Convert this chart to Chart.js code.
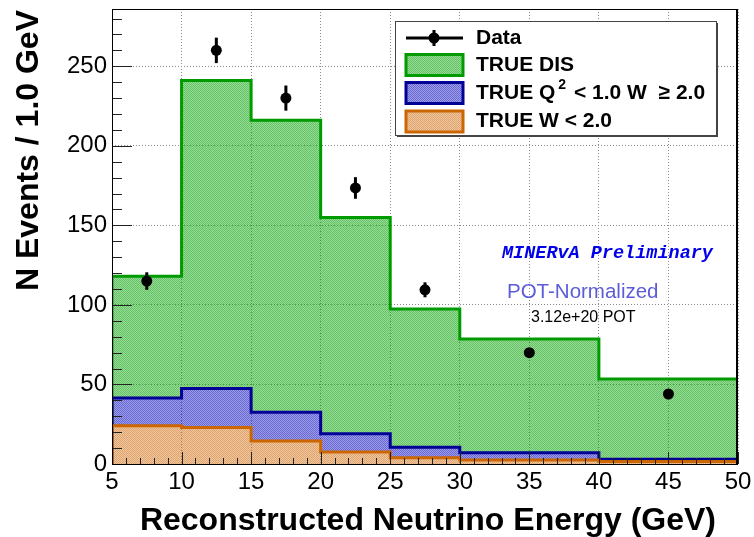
<!DOCTYPE html>
<html>
<head>
<meta charset="utf-8">
<script src="https://cdn.jsdelivr.net/npm/chart.js@4.4.0/dist/chart.umd.min.js"></script>
<style>
  html, body { margin: 0; padding: 0; background: #ffffff; }
  #wrap { width: 754px; height: 537px; }
</style>
</head>
<body>
<div id="wrap"><canvas id="c" width="754" height="537"></canvas></div>
<script>
// Reconstructed neutrino energy bins (GeV) and event rates per 1 GeV
const binEdges = [5, 10, 15, 20, 25, 30, 40, 50];
const trueDIS = [118, 241, 216, 155, 97.5, 78.5, 53.5];
const trueLowQ2HighW = [41.5, 47.5, 32.5, 19, 10.5, 7, 3];
const trueLowW = [24, 23, 14.5, 7.5, 4, 2.5, 1.5];

// Measured points with statistical errors
const dataEnergy = [7.5, 12.5, 17.5, 22.5, 27.5, 35, 45];
const dataEvents = [115, 260, 230, 173.5, 109.5, 70, 44];
const dataError = [5.5, 8, 7.9, 6.8, 4.7, 2.6, 2.1];

const xTickValues = [5, 10, 15, 20, 25, 30, 35, 40, 45, 50];
const yTickValues = [0, 50, 100, 150, 200, 250];

const legendLabels = ['Data', 'TRUE DIS', 'TRUE Q', 'TRUE W < 2.0'];

const SANS = '"Liberation Sans", Arial, Helvetica, sans-serif';

// Fine checkered fill, like ROOT's hatched fill styles
function checker(r, g, b, a1, a2) {
  const c = document.createElement('canvas');
  c.width = 2; c.height = 2;
  const g2 = c.getContext('2d');
  g2.fillStyle = `rgba(${r},${g},${b},${a1})`;
  g2.fillRect(0, 0, 1, 1); g2.fillRect(1, 1, 1, 1);
  g2.fillStyle = `rgba(${r},${g},${b},${a2})`;
  g2.fillRect(1, 0, 1, 1); g2.fillRect(0, 1, 1, 1);
  return g2.createPattern(c, 'repeat');
}
const ctx0 = document.getElementById('c').getContext('2d');
const greenFill = checker(0, 160, 0, 0.62, 0.40);
const blueFill = checker(0, 0, 185, 0.60, 0.38);
const orangeFill = checker(205, 105, 10, 0.60, 0.38);
const greenLine = 'rgb(0,155,0)';
const blueLine = 'rgb(0,0,150)';
const orangeLine = 'rgb(204,102,0)';

// Step-outline points for a histogram (closed down to zero at both ends)
function histPoints(values) {
  const pts = [{x: binEdges[0], y: 0}];
  values.forEach((v, i) => pts.push({x: binEdges[i], y: v}));
  pts.push({x: binEdges[binEdges.length - 1], y: values[values.length - 1]});
  pts.push({x: binEdges[binEdges.length - 1], y: 0});
  return pts;
}

const dataPoints = dataEnergy.map((e, i) => ({x: e, y: dataEvents[i]}));

const overlay = {
  id: 'overlay',
  afterDraw(chart) {
    const ctx = chart.ctx;
    const xs = chart.scales.x, ys = chart.scales.y;
    const a = chart.chartArea;

    // error bars
    ctx.save();
    ctx.strokeStyle = '#000'; ctx.lineWidth = 3;
    dataEnergy.forEach((e, i) => {
      const px = xs.getPixelForValue(e);
      ctx.beginPath();
      ctx.moveTo(px, ys.getPixelForValue(dataEvents[i] - dataError[i]));
      ctx.lineTo(px, ys.getPixelForValue(dataEvents[i] + dataError[i]));
      ctx.stroke();
    });
    ctx.restore();

    // inward ticks
    ctx.save();
    ctx.strokeStyle = '#222'; ctx.lineWidth = 1;
    ctx.beginPath();
    for (let v = binEdges[0]; v <= binEdges[binEdges.length - 1]; v += 1) {
      const px = Math.round(xs.getPixelForValue(v)) + 0.5;
      const len = v % 5 === 0 ? 12 : 6;
      ctx.moveTo(px, a.bottom); ctx.lineTo(px, a.bottom - len);
    }
    for (let v = 0; v <= ys.max; v += 10) {
      const py = Math.round(ys.getPixelForValue(v)) + 0.5;
      const len = v % 50 === 0 ? 20 : 10;
      ctx.moveTo(a.left, py); ctx.lineTo(a.left + len, py);
    }
    ctx.stroke();
    ctx.restore();

    // frame
    ctx.save();
    ctx.strokeStyle = '#000'; ctx.lineWidth = 1;
    ctx.strokeRect(a.left + 0.5, a.top + 0.5, a.right - a.left - 1, a.bottom - a.top);
    ctx.lineWidth = 2;
    ctx.beginPath(); ctx.moveTo(a.right - 1, a.top); ctx.lineTo(a.right - 1, a.bottom); ctx.stroke();
    ctx.restore();

    // legend
    ctx.save();
    const lx = 395, ly = 21, lw = 321, lh = 114;
    ctx.fillStyle = '#fff';
    ctx.fillRect(lx, ly, lw, lh);
    ctx.strokeStyle = '#444'; ctx.lineWidth = 1;
    ctx.strokeRect(lx + 0.5, ly + 0.5, lw, lh);
    ctx.fillStyle = '#444';
    ctx.fillRect(lx + lw, ly + 2, 2, lh);
    ctx.fillRect(lx + 2, ly + lh, lw, 2);

    const rows = [38, 65, 93, 121.5];
    const bx = 406, bw = 57, bh = 21;
    // Data marker
    ctx.strokeStyle = '#000'; ctx.lineWidth = 3;
    ctx.beginPath(); ctx.moveTo(bx, rows[0]); ctx.lineTo(bx + bw, rows[0]); ctx.stroke();
    ctx.beginPath(); ctx.moveTo(434, rows[0] - 8); ctx.lineTo(434, rows[0] + 8); ctx.stroke();
    ctx.fillStyle = '#000';
    ctx.beginPath(); ctx.arc(434, rows[0], 5.5, 0, Math.PI * 2); ctx.fill();
    // swatches
    [[greenFill, greenLine], [blueFill, blueLine], [orangeFill, orangeLine]].forEach(([f, s], i) => {
      const cy = rows[i + 1];
      ctx.fillStyle = f;
      ctx.fillRect(bx, cy - bh / 2, bw, bh);
      ctx.strokeStyle = s; ctx.lineWidth = 3;
      ctx.strokeRect(bx, cy - bh / 2, bw, bh);
    });
    ctx.fillStyle = '#000';
    ctx.font = `bold 21px ${SANS}`;
    ctx.textBaseline = 'middle';
    ctx.textAlign = 'left';
    const tx = 476;
    ctx.fillText(legendLabels[0], tx, rows[0]);
    ctx.fillText(legendLabels[1], tx, rows[1]);
    // TRUE Q^2 < 1.0 W >= 2.0
    ctx.fillText(legendLabels[2], tx, rows[2]);
    let w = ctx.measureText(legendLabels[2]).width;
    ctx.font = `bold 14px ${SANS}`;
    ctx.fillText('2', tx + w + 3, rows[2] - 8);
    const w2 = ctx.measureText('2').width;
    ctx.font = `bold 21px ${SANS}`;
    ctx.fillText(' < 1.0 W  \u2265 2.0', tx + w + w2 + 5, rows[2]);
    ctx.fillText(legendLabels[3], tx, rows[3]);
    ctx.restore();

    // annotations
    ctx.save();
    ctx.textAlign = 'left';
    ctx.textBaseline = 'alphabetic';
    ctx.fillStyle = 'rgb(0,0,235)';
    ctx.font = 'italic bold 18.5px "Liberation Mono", "Courier New", monospace';
    ctx.fillText('MINERvA Preliminary', 502, 258);
    ctx.fillStyle = 'rgb(92,92,218)';
    ctx.font = `20.5px ${SANS}`;
    ctx.fillText('POT-Normalized', 507, 298);
    ctx.fillStyle = '#000';
    ctx.font = `16px ${SANS}`;
    ctx.fillText('3.12e+20 POT', 531, 322);
    ctx.restore();

    // axis titles
    ctx.save();
    ctx.fillStyle = '#000';
    ctx.font = `bold 32px ${SANS}`;
    ctx.textAlign = 'right';
    ctx.textBaseline = 'alphabetic';
    ctx.fillText('Reconstructed Neutrino Energy (GeV)', 716, 530);
    ctx.translate(38, 10);
    ctx.rotate(-Math.PI / 2);
    ctx.fillText('N Events / 1.0 GeV', 0, 0);
    ctx.restore();
  }
};

new Chart(ctx0, {
  type: 'line',
  data: {
    datasets: [
      {
        label: legendLabels[0],
        data: dataPoints,
        showLine: false,
        pointRadius: 5.5,
        pointHoverRadius: 5.5,
        pointBackgroundColor: '#000',
        pointBorderColor: '#000',
        pointBorderWidth: 0,
        order: 0
      },
      {
        label: legendLabels[3],
        data: histPoints(trueLowW),
        stepped: true,
        borderColor: orangeLine,
        borderWidth: 3,
        backgroundColor: orangeFill,
        fill: 'origin',
        pointRadius: 0,
        order: 1
      },
      {
        label: 'TRUE Q2 < 1.0 W >= 2.0',
        data: histPoints(trueLowQ2HighW),
        stepped: true,
        borderColor: blueLine,
        borderWidth: 3,
        backgroundColor: blueFill,
        fill: 1,
        pointRadius: 0,
        order: 2
      },
      {
        label: legendLabels[1],
        data: histPoints(trueDIS),
        stepped: true,
        borderColor: greenLine,
        borderWidth: 3,
        backgroundColor: greenFill,
        fill: 2,
        pointRadius: 0,
        order: 3
      }
    ]
  },
  options: {
    responsive: false,
    animation: false,
    events: [],
    layout: { padding: { top: 9, right: 16, left: 0, bottom: 0 } },
    plugins: { legend: { display: false }, tooltip: { enabled: false } },
    scales: {
      x: {
        type: 'linear',
        min: binEdges[0],
        max: binEdges[binEdges.length - 1],
        afterFit: s => { s.height = 73; s.paddingLeft = 0; s.paddingRight = 0; },
        afterBuildTicks: s => { s.ticks = xTickValues.map(v => ({value: v})); },
        grid: { color: '#8a8a8a', lineWidth: 1, drawTicks: false },
        border: { display: false, dash: [1, 2] },
        ticks: {
          padding: 4,
          color: '#000',
          font: { family: SANS, size: 24 },
          maxRotation: 0,
          autoSkip: false
        }
      },
      y: {
        type: 'linear',
        min: 0,
        max: 286,
        afterFit: s => { s.width = 112; s.paddingTop = 0; s.paddingBottom = 0; },
        afterBuildTicks: s => { s.ticks = yTickValues.map(v => ({value: v})); },
        grid: { color: '#8a8a8a', lineWidth: 1, drawTicks: false },
        border: { display: false, dash: [1, 2] },
        ticks: {
          padding: 5,
          color: '#000',
          font: { family: SANS, size: 24 }
        }
      }
    }
  },
  plugins: [overlay]
});
</script>
</body>
</html>
